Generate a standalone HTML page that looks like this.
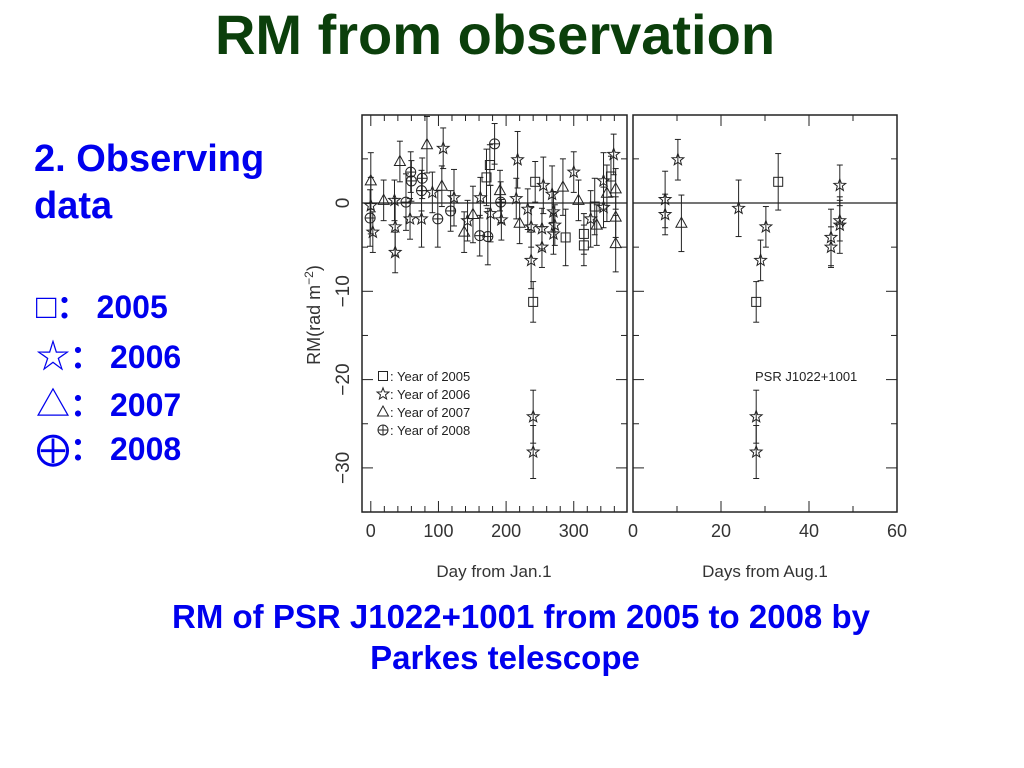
<!DOCTYPE html>
<html><head><meta charset="utf-8"><style>
body{margin:0;width:1024px;height:768px;background:#fff;overflow:hidden;font-family:"Liberation Sans",sans-serif;position:relative}
.t{position:absolute;font-weight:bold;white-space:nowrap}
</style></head><body>
<div class="t" style="left:0;width:990px;text-align:center;top:2px;font-size:56px;color:#0b3f0b">RM from observation</div>
<div class="t" style="left:34px;top:136px;font-size:38px;color:#0000ee;line-height:47px">2. Observing<br>data</div>
<div>
<div class="t" style="left:36px;top:282px;font-size:32px;color:#0000ee;font-family:'Liberation Sans','Noto Sans CJK SC',sans-serif"><span style="font-weight:normal;font-size:34px">□</span><span style="display:inline-block;width:40px;font-size:32px">：</span>2005</div>
<div class="t" style="left:36px;top:329px;font-size:32px;color:#0000ee;font-family:'Liberation Sans','Noto Sans CJK SC',sans-serif"><span style="font-weight:normal;font-size:34px">☆</span><span style="display:inline-block;width:40px;font-size:32px">：</span>2006</div>
<div class="t" style="left:36px;top:377px;font-size:32px;color:#0000ee;font-family:'Liberation Sans','Noto Sans CJK SC',sans-serif"><span style="font-weight:normal;font-size:34px">△</span><span style="display:inline-block;width:40px;font-size:32px">：</span>2007</div>
<div class="t" style="left:36px;top:424px;font-size:32px;color:#0000ee;font-family:'Liberation Sans','Noto Sans CJK SC',sans-serif"><span style="font-weight:normal;font-size:34px">⨁</span><span style="display:inline-block;width:40px;font-size:32px">：</span>2008</div>
</div>
<div class="t" style="left:100px;width:842px;text-align:center;top:598px;font-size:33px;color:#0000ee">RM of PSR J1022+1001 from 2005 to 2008 by</div>
<div class="t" style="left:100px;width:810px;text-align:center;top:639px;font-size:33px;color:#0000ee">Parkes telescope</div>
<svg id="chart" width="1024" height="768" style="position:absolute;left:0;top:0" font-family="Liberation Sans, sans-serif"></svg>
<script>
// Left panel data: day from Jan.1
const leftSquareDay=[171,176,243,288,315,315,331,355,240];
const leftSquareRM=[2.9,4.3,2.4,-3.9,-3.5,-4.8,-0.4,3,-11.2];
const leftStarDay=[0,3,35,36,36,58,75,91,107,123,143,162,177,193,215,217,232,237,237,253,253,255,270,272,268,270,300,344,344,359,325,240,240];
const leftStarRM=[-0.3,-3.3,0.3,-2.7,-5.6,-1.8,-1.8,1.2,6.2,0.6,-2,0.6,-1.2,-1.9,0.5,4.9,-0.7,-2.7,-6.5,-2.9,-5,2,-1,-2.5,1,-3.5,3.5,2.5,-0.5,5.5,-1.8,-24.2,-28.2];
const leftTriDay=[0,19,43,83,105,138,151,191,220,284,307,334,349,362,362,362];
const leftTriRM=[2.5,0.3,4.7,6.6,1.9,-3.3,-1.3,1.4,-2.3,1.8,0.3,-2.5,1.1,1.6,-1.6,-4.6];
const leftCircDay=[-1,59,60,52,76,75,99,118,161,173,183,192];
const leftCircRM=[-1.7,3.5,2.5,0.1,2.8,1.4,-1.8,-0.9,-3.7,-3.8,6.7,0.1];
// Right panel data: days from Aug.1
const rightSquareDay=[33,28];
const rightSquareRM=[2.4,-11.2];
const rightStarDay=[7.3,7.3,10.2,24,30.2,29,45,45,47,47,47,28,28];
const rightStarRM=[0.4,-1.3,4.9,-0.6,-2.7,-6.5,-3.9,-5,2,-2.5,-2,-24.2,-28.2];
const rightTriDay=[11];
const rightTriRM=[-2.3];
const yTicks=[0,-10,-20,-30];
const leftXTicks=[0,100,200,300];
const rightXTicks=[0,20,40,60];

const svg=document.getElementById('chart');
const NS='http://www.w3.org/2000/svg';
function mk(tag,attrs,parent){const e=document.createElementNS(NS,tag);for(const k in attrs)e.setAttribute(k,attrs[k]);(parent||svg).appendChild(e);return e;}
const yS=v=>203-v*8.83;
const lx=d=>370.8+d*0.6765;
const rx=d=>633+d*4.4;
const stroke='#222';
const TOP=115,BOT=512;
function panel(x0,x1,name,xs,ticks,minor,major,title,tx){
  const g=mk('g',{});
  
  
  mk('rect',{x:x0,y:TOP,width:x1-x0,height:BOT-TOP,fill:'none',stroke:stroke,'stroke-width':1.5},g);
  mk('line',{x1:x0,x2:x1,y1:yS(0),y2:yS(0),stroke:stroke,'stroke-width':1.3},g);
  for(let v=5;v>=-35;v-=5){const y=yS(v);const L=v%10===0?11:6;
    mk('line',{x1:x0,x2:x0+L,y1:y,y2:y,stroke:stroke},g);mk('line',{x1:x1,x2:x1-L,y1:y,y2:y,stroke:stroke},g);}
  for(let d=minor[0];d<=minor[1];d+=minor[2]){const x=xs(d);if(x<x0||x>x1)continue;const L=(d%major===0)?11:6;
    mk('line',{x1:x,x2:x,y1:BOT,y2:BOT-L,stroke:stroke},g);mk('line',{x1:x,x2:x,y1:TOP,y2:TOP+L,stroke:stroke},g);}
  ticks.forEach(t=>{const e=mk('text',{x:xs(t),y:537,'text-anchor':'middle','font-size':18,fill:'#333'},g);e.textContent=t;
    });
  const tt=mk('text',{x:tx,y:577,'text-anchor':'middle','font-size':17,fill:'#333'},g);tt.textContent=title;
  
  return g;
}
const gl=panel(362,627,'left-panel',lx,leftXTicks,[-20,380,20],100,'Day from Jan.1',494);
const gr=panel(633,897,'right-panel',rx,rightXTicks,[0,60,10],20,'Days from Aug.1',765);
yTicks.forEach(v=>{const e=mk('text',{transform:`translate(349,${yS(v)}) rotate(-90)`,'text-anchor':'middle','font-size':19,fill:'#333'});
  e.textContent=v===0?'0':'\u2212'+(-v);
  });
const yt=mk('text',{transform:'translate(320,315) rotate(-90)','text-anchor':'middle','font-size':18,fill:'#333'});
yt.innerHTML='RM(rad m<tspan dy="-7" font-size="12">\u22122</tspan><tspan dy="7">)</tspan>';


function marker(type,cx,cy,g){
  const a={fill:'none',stroke:stroke,'stroke-width':1};let e;
  if(type==='sq'){e=mk('rect',Object.assign({x:cx-4.5,y:cy-4.5,width:9,height:9},a),g);}
  else if(type==='tri'){e=mk('polygon',Object.assign({points:`${cx},${cy-6} ${cx-5.5},${cy+4} ${cx+5.5},${cy+4}`},a),g);}
  else if(type==='circ'){e=mk('g',{},g);mk('circle',Object.assign({cx:cx,cy:cy,r:5},a),e);
    mk('line',{x1:cx-5,x2:cx+5,y1:cy,y2:cy,stroke:stroke},e);mk('line',{x1:cx,x2:cx,y1:cy-5,y2:cy+5,stroke:stroke},e);}
  else{let p=[];for(let i=0;i<10;i++){const r=i%2?2.6:6.2;const an=-Math.PI/2+i*Math.PI/5;p.push((cx+r*Math.cos(an)).toFixed(1)+','+(cy+r*Math.sin(an)).toFixed(1));}
    e=mk('polygon',Object.assign({points:p.join(' ')},a),g);}
  return e;
}
function series(days,rms,type,xs,g,name){
  days.forEach((d,i)=>{const x=xs(d),y=yS(rms[i]);const err=(rms[i]<-20?3:(i%3===0?3.2:2.3));
    const pt=mk('g',{},g);
    
    
    mk('line',{x1:x,x2:x,y1:yS(rms[i]+err),y2:yS(rms[i]-err),stroke:stroke},pt);
    mk('line',{x1:x-3,x2:x+3,y1:yS(rms[i]+err),y2:yS(rms[i]+err),stroke:stroke},pt);
    mk('line',{x1:x-3,x2:x+3,y1:yS(rms[i]-err),y2:yS(rms[i]-err),stroke:stroke},pt);
    marker(type,x,y,pt);});
}
series(leftSquareDay,leftSquareRM,'sq',lx,gl,'point-2005');
series(leftStarDay,leftStarRM,'star',lx,gl,'point-2006');
series(leftTriDay,leftTriRM,'tri',lx,gl,'point-2007');
series(leftCircDay,leftCircRM,'circ',lx,gl,'point-2008');
series(rightSquareDay,rightSquareRM,'sq',rx,gr,'point-2005');
series(rightStarDay,rightStarRM,'star',rx,gr,'point-2006');
series(rightTriDay,rightTriRM,'tri',rx,gr,'point-2007');
const lg=mk('g',{});


['sq','star','tri','circ'].forEach((t,i)=>{const y=377+i*18;marker(t,383,y-1,lg);
  const e=mk('text',{x:390,y:y+4,'font-size':13,fill:'#222'},lg);e.textContent=':  Year of '+(2005+i);});
const pl=mk('text',{x:755,y:381,'font-size':13,fill:'#222'});pl.textContent='PSR J1022+1001';

</script>
</body></html>
